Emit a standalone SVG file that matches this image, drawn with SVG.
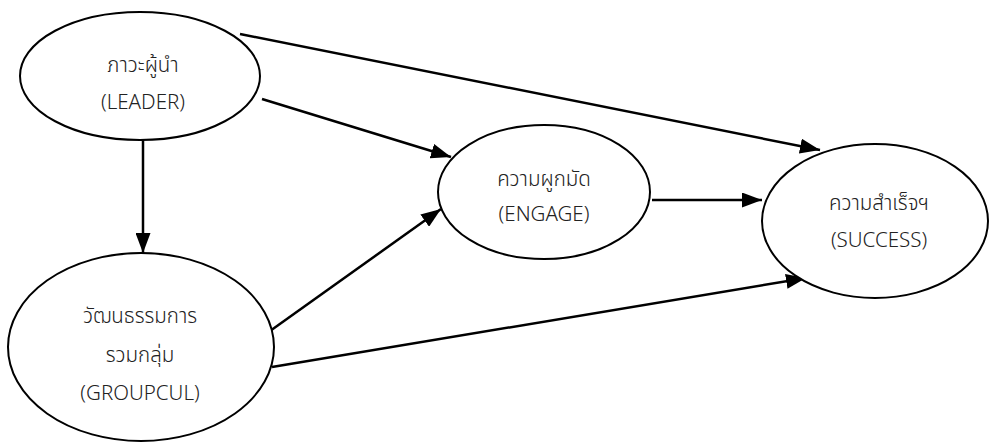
<svg xmlns="http://www.w3.org/2000/svg" width="991" height="442" viewBox="0 0 991 442">
<style>
.node ellipse{fill:#fff;stroke:#000;stroke-width:2}
.node text{font-family:"Noto Sans","Noto Sans Thai","DejaVu Sans",sans-serif;font-size:20.5px;fill:#222;text-anchor:middle;font-weight:300}
.edge line{stroke:#000;stroke-width:2.5;marker-end:url(#ah)}
</style>
<defs>
<marker id="ah" markerWidth="8" markerHeight="6" refX="8" refY="3" orient="auto" markerUnits="strokeWidth">
<path d="M0,0 L8,3 L0,6 Z" fill="#000"/>
</marker>
</defs>
<rect width="991" height="442" fill="#fff"/>
<g id="edges" class="edge">
<line x1="240" y1="34" x2="820" y2="150"/>
<line x1="262" y1="99" x2="451" y2="157"/>
<line x1="143" y1="140" x2="143" y2="253"/>
<line x1="263" y1="336" x2="441" y2="209"/>
<line x1="272" y1="367" x2="806" y2="278"/>
<line x1="652" y1="200" x2="762" y2="200"/>
</g>
<g id="leader" class="node">
<ellipse cx="140" cy="76" rx="120" ry="64"/>
<text x="143" y="72">ภาวะผู้นำ</text>
<text x="143" y="109">(LEADER)</text>
</g>
<g id="groupcul" class="node">
<ellipse cx="141" cy="347" rx="133" ry="94"/>
<text x="140" y="323">วัฒนธรรมการ</text>
<text x="140" y="362">รวมกลุ่ม</text>
<text x="140" y="400">(GROUPCUL)</text>
</g>
<g id="engage" class="node">
<ellipse cx="544" cy="192" rx="106" ry="67"/>
<text x="544" y="186">ความผูกมัด</text>
<text x="544" y="221">(ENGAGE)</text>
</g>
<g id="success" class="node">
<ellipse cx="875" cy="221" rx="113" ry="77"/>
<text x="879" y="210">ความสำเร็จฯ</text>
<text x="879" y="247">(SUCCESS)</text>
</g>
</svg>
